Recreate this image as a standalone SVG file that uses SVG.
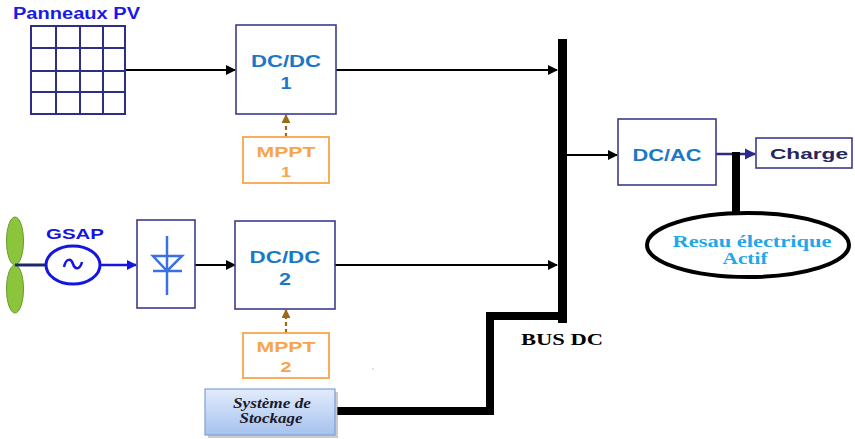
<svg xmlns="http://www.w3.org/2000/svg" width="855" height="439" viewBox="0 0 855 439">
  <defs>
    <style>
      .box { fill: #ffffff; stroke: #3c3c8c; stroke-width: 1.6; }
      .mppt { fill: #ffffff; stroke: #f7a54a; stroke-width: 1.8; }
      .sans { font-family: "Liberation Sans", Arial, sans-serif; font-weight: bold; }
      .serif { font-family: "Liberation Serif", "Times New Roman", serif; font-weight: bold; }
      .dc { fill: #1a78c8; font-size: 16.5px; }
      .mt { fill: #f7a54a; font-size: 15px; }
      .wire { stroke: #000000; stroke-width: 2; fill: none; }
      .bus { stroke: #000000; stroke-width: 8; fill: none; }
      .ctl { stroke: #9a6a1a; stroke-width: 2.2; stroke-dasharray: 4 3; fill: none; }
      .grid { stroke: #2e2e86; stroke-width: 2; fill: none; }
    </style>
    <marker id="arrBlack" viewBox="0 0 10 10" refX="9" refY="5" markerWidth="5" markerHeight="5" orient="auto" markerUnits="strokeWidth">
      <path d="M0,0 L10,5 L0,10 Z" fill="#000000"/>
    </marker>
    <marker id="arrBlue" viewBox="0 0 10 10" refX="9" refY="5" markerWidth="4" markerHeight="4" orient="auto" markerUnits="strokeWidth">
      <path d="M0,0 L10,5 L0,10 Z" fill="#1515e0"/>
    </marker>
    <marker id="arrNavy" viewBox="0 0 10 10" refX="9" refY="5" markerWidth="4.5" markerHeight="4.5" orient="auto" markerUnits="strokeWidth">
      <path d="M0,0 L10,5 L0,10 Z" fill="#2a2a8a"/>
    </marker>
    <marker id="arrBrown" viewBox="0 0 10 10" refX="9" refY="5" markerWidth="4" markerHeight="4" orient="auto" markerUnits="strokeWidth">
      <path d="M0,0 L10,5 L0,10 Z" fill="#9a6a1a"/>
    </marker>
    <linearGradient id="storeFill" x1="0" y1="0" x2="0" y2="1">
      <stop offset="0" stop-color="#e2ecfc"/>
      <stop offset="1" stop-color="#a6c2ee"/>
    </linearGradient>
  </defs>

  <rect width="855" height="439" fill="#ffffff"/>

  <!-- connectors -->
  <g id="connectors">
    <line class="wire" x1="126" y1="70" x2="235" y2="70" marker-end="url(#arrBlack)"/>
    <line class="wire" x1="336" y1="70" x2="557" y2="70" marker-end="url(#arrBlack)"/>
    <line class="wire" x1="195" y1="265" x2="235" y2="265" marker-end="url(#arrBlack)"/>
    <line class="wire" x1="335" y1="265" x2="557" y2="265" marker-end="url(#arrBlack)"/>
    <line class="wire" x1="567" y1="155" x2="617" y2="155" marker-end="url(#arrBlack)"/>
    <line x1="100" y1="265" x2="136" y2="265" stroke="#1515e0" stroke-width="2.5" marker-end="url(#arrBlue)"/>
    <line x1="716" y1="154" x2="755" y2="154" stroke="#2a2a8a" stroke-width="2.5" marker-end="url(#arrNavy)"/>
    <line class="ctl" x1="286" y1="137" x2="286" y2="115" marker-end="url(#arrBrown)"/>
    <line class="ctl" x1="286" y1="333" x2="286" y2="310" marker-end="url(#arrBrown)"/>
    <!-- DC bus bar -->
    <line x1="562.5" y1="39" x2="562.5" y2="323" stroke="#000000" stroke-width="9"/>
    <!-- storage link to bus -->
    <polyline class="bus" points="337,411 490,411 490,316 563,316" stroke-linejoin="miter"/>
    <!-- grid link -->
    <line x1="736" y1="152" x2="736" y2="212" stroke="#000000" stroke-width="8"/>
  </g>

  <!-- PV array -->
  <g id="pv">
    <text class="sans" x="13" y="19" font-size="16" fill="#1a1ae6" textLength="127" lengthAdjust="spacingAndGlyphs">Panneaux PV</text>
    <rect class="grid" x="31" y="26" width="94" height="88"/>
    <path class="grid" d="M56,26 V114 M80,26 V114 M103,26 V114 M31,48 H125 M31,71 H125 M31,92 H125"/>
  </g>

  <!-- DC/DC 1 -->
  <g id="dcdc1">
    <rect class="box" x="236" y="25" width="100" height="89"/>
    <text class="sans dc" x="286" y="67" text-anchor="middle" textLength="70" lengthAdjust="spacingAndGlyphs">DC/DC</text>
    <text class="sans dc" x="286" y="89" text-anchor="middle" textLength="11" lengthAdjust="spacingAndGlyphs">1</text>
  </g>

  <!-- MPPT 1 -->
  <g id="mppt1">
    <rect class="mppt" x="243" y="137" width="86" height="46"/>
    <text class="sans mt" x="286" y="157" text-anchor="middle" textLength="59" lengthAdjust="spacingAndGlyphs">MPPT</text>
    <text class="sans mt" x="286" y="177" text-anchor="middle" textLength="10" lengthAdjust="spacingAndGlyphs">1</text>
  </g>

  <!-- wind generator -->
  <g id="gsap">
    <ellipse cx="15" cy="241" rx="8.5" ry="24" fill="#8cc43c" stroke="#6a9a30" stroke-width="1"/>
    <ellipse cx="15" cy="289" rx="8.5" ry="24" fill="#8cc43c" stroke="#6a9a30" stroke-width="1"/>
    <line x1="15" y1="265" x2="46" y2="265" stroke="#1a2a6a" stroke-width="3"/>
    <ellipse cx="73" cy="265" rx="27" ry="19" fill="#ffffff" stroke="#1515e0" stroke-width="3"/>
    <path d="M64,267 C66,258 71,258 73,264 C75,270 80,270 82,262" fill="none" stroke="#1515e0" stroke-width="2.5"/>
    <text class="sans" x="75" y="239" font-size="14" fill="#1515e0" text-anchor="middle" textLength="58" lengthAdjust="spacingAndGlyphs">GSAP</text>
  </g>

  <!-- rectifier -->
  <g id="rectifier">
    <rect class="box" x="137" y="220" width="58" height="88"/>
    <g stroke="#3a70e0" stroke-width="2.5" fill="none">
      <line x1="167" y1="236" x2="167" y2="295"/>
      <path d="M153,256 H182 L167,271 Z"/>
      <line x1="153" y1="271" x2="182" y2="271"/>
    </g>
  </g>

  <!-- DC/DC 2 -->
  <g id="dcdc2">
    <rect class="box" x="235" y="221" width="100" height="88"/>
    <text class="sans dc" x="285" y="263" text-anchor="middle" textLength="71" lengthAdjust="spacingAndGlyphs">DC/DC</text>
    <text class="sans dc" x="285" y="285" text-anchor="middle" textLength="12" lengthAdjust="spacingAndGlyphs">2</text>
  </g>

  <!-- MPPT 2 -->
  <g id="mppt2">
    <rect class="mppt" x="243" y="333" width="86" height="45"/>
    <text class="sans mt" x="286" y="352" text-anchor="middle" textLength="59" lengthAdjust="spacingAndGlyphs">MPPT</text>
    <text class="sans mt" x="286" y="372" text-anchor="middle" textLength="11" lengthAdjust="spacingAndGlyphs">2</text>
  </g>

  <!-- storage -->
  <g id="stockage">
    <rect x="208" y="392" width="130" height="46" fill="#9a9a9a" opacity="0.5"/>
    <rect x="205" y="389" width="130" height="46" fill="url(#storeFill)" stroke="#7da0d8" stroke-width="1.2"/>
    <text class="serif" x="272" y="408" font-size="14.5" font-style="italic" fill="#1a1a2a" text-anchor="middle" textLength="78" lengthAdjust="spacingAndGlyphs">Système de</text>
    <text class="serif" x="271" y="423" font-size="14.5" font-style="italic" fill="#1a1a2a" text-anchor="middle" textLength="63" lengthAdjust="spacingAndGlyphs">Stockage</text>
  </g>

  <!-- bus label -->
  <g id="busdc">
    <text class="serif" x="562" y="345" font-size="16" fill="#000000" text-anchor="middle" textLength="82" lengthAdjust="spacingAndGlyphs">BUS DC</text>
  </g>

  <!-- DC/AC -->
  <g id="dcac">
    <rect class="box" x="618" y="119" width="98" height="66"/>
    <text class="sans dc" x="667" y="161" text-anchor="middle" textLength="69" lengthAdjust="spacingAndGlyphs">DC/AC</text>
  </g>

  <!-- load -->
  <g id="charge">
    <rect class="box" x="756" y="138" width="96" height="30"/>
    <text class="sans" x="809" y="159" font-size="15.5" fill="#27275e" text-anchor="middle" textLength="78" lengthAdjust="spacingAndGlyphs">Charge</text>
  </g>

  <!-- grid -->
  <g id="reseau">
    <ellipse cx="748" cy="245" rx="101" ry="32" fill="#ffffff" stroke="#000000" stroke-width="4"/>
    <text class="serif" x="752" y="247" font-size="16" fill="#22a8ea" text-anchor="middle" textLength="159" lengthAdjust="spacingAndGlyphs">Resau électrique</text>
    <text class="serif" x="745" y="264" font-size="16" fill="#22a8ea" text-anchor="middle" textLength="45" lengthAdjust="spacingAndGlyphs">Actif</text>
  </g>

  <!-- stray mark -->
  <circle cx="373" cy="369" r="0.8" fill="#e8a0a0"/>
</svg>
